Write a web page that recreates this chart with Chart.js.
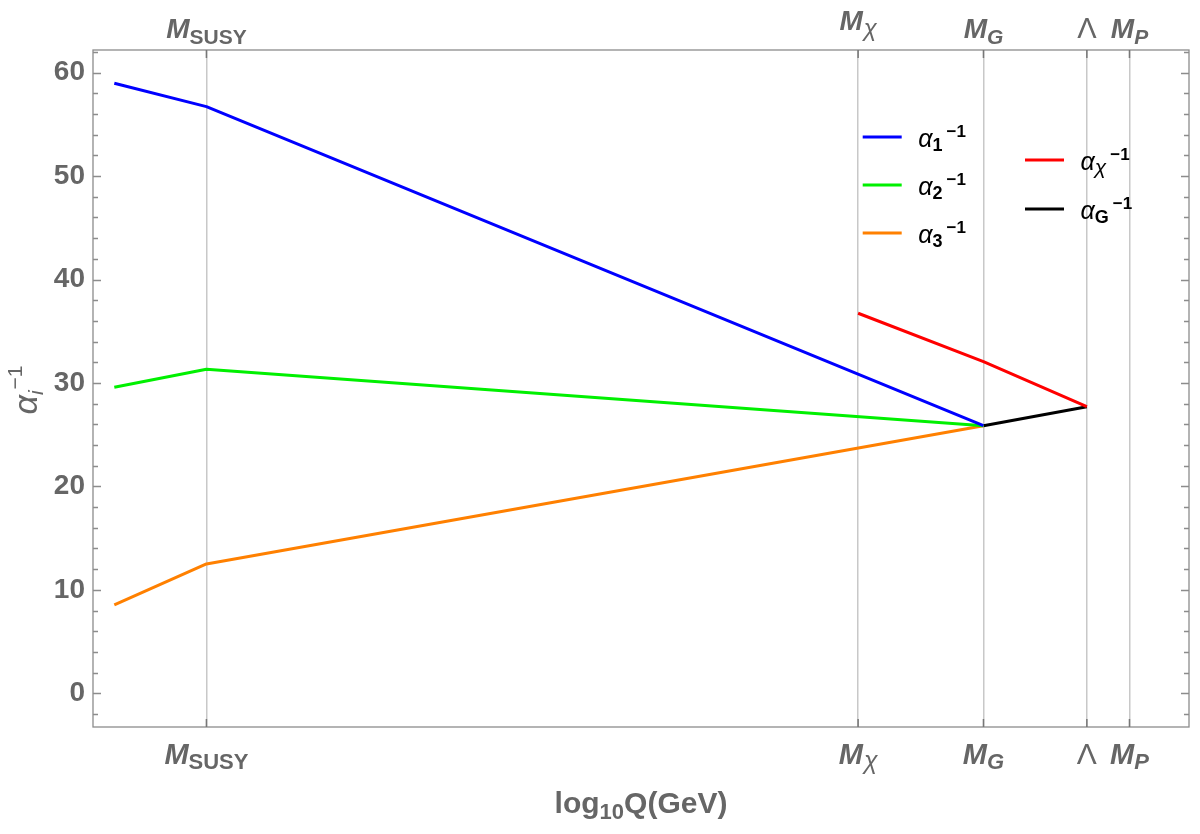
<!DOCTYPE html>
<html>
<head>
<meta charset="utf-8">
<script src="https://cdn.jsdelivr.net/npm/chart.js@4/dist/chart.umd.min.js"></script>
<style>
html,body{margin:0;padding:0;background:#fff;}
#wrap{width:1200px;height:834px;position:relative;}
</style>
</head>
<body>
<div id="wrap"><canvas id="c" width="1200" height="834"></canvas></div>
<script>
// ---- data (log10 Q in GeV, inverse couplings) ----
const scaleNames = ['M_SUSY', 'M_chi', 'M_G', 'Lambda', 'M_P'];
const scalePositions = [3.6, 14, 16, 17.65, 18.33];
const xAxisMin = 1.79;
const xAxisMax = 19.28;
const yAxisMin = -3.26;
const yAxisMax = 62.19;
const yTicks = [0, 10, 20, 30, 40, 50, 60];

const alphaSMX = [2.13, 3.6, 16];
const alpha1Y = [58.98, 56.72, 25.87];
const alpha2Y = [29.59, 31.33, 25.87];
const alpha3Y = [8.54, 12.5, 25.87];
const alphaChiX = [14, 16, 17.65];
const alphaChiY = [36.74, 32.06, 27.71];
const alphaGX = [16, 17.65];
const alphaGY = [25.87, 27.71];

const FONT = '"Liberation Sans", Arial, sans-serif';
const GRAY = '#666666';

function pts(xs, ys) { return xs.map((x, i) => ({ x: x, y: ys[i] })); }
function ds(label, xs, ys, color) {
  return { label: label, data: pts(xs, ys), borderColor: color, backgroundColor: color,
           borderWidth: 3, pointRadius: 0, tension: 0, fill: false, borderJoinStyle: 'round' };
}

// rich text: parts = [{t, f, dy, gap}]
function drawRich(ctx, parts, x, y, align) {
  let w = 0;
  parts.forEach(p => { ctx.font = p.f; p.w = ctx.measureText(p.t).width; w += p.w + (p.gap || 0); });
  let cx = align === 'center' ? x - w / 2 : (align === 'right' ? x - w : x);
  ctx.textAlign = 'left';
  ctx.textBaseline = 'alphabetic';
  parts.forEach(p => {
    cx += (p.gap || 0);
    ctx.font = p.f;
    ctx.fillText(p.t, cx, y + (p.dy || 0));
    cx += p.w;
  });
}

function labelParts(name, big, small, subDy) {
  const M = 'italic bold ' + big + 'px ' + FONT;
  const S = 'bold ' + small + 'px ' + FONT;
  const Si = 'italic bold ' + small + 'px ' + FONT;
  const chi = 'italic ' + (small + 3) + 'px ' + FONT;
  switch (name) {
    case 'M_SUSY': return [{ t: 'M', f: M }, { t: 'SUSY', f: S, dy: subDy }];
    case 'M_chi': return [{ t: 'M', f: M }, { t: 'χ', f: chi, dy: subDy, gap: 1 }];
    case 'M_G': return [{ t: 'M', f: M }, { t: 'G', f: Si, dy: subDy }];
    case 'M_P': return [{ t: 'M', f: M }, { t: 'P', f: Si, dy: subDy }];
    case 'Lambda': return [{ t: 'Λ', f: (big + 1) + 'px ' + FONT }];
  }
  return [{ t: name, f: M }];
}

const framePlugin = {
  id: 'framePlugin',
  afterDraw(chart) {
    const ctx = chart.ctx;
    const a = chart.chartArea;
    const xs = chart.scales.x, ys = chart.scales.y;
    ctx.save();
    // frame
    ctx.strokeStyle = '#8c8c8c';
    ctx.lineWidth = 1.3;
    ctx.strokeRect(a.left, a.top, a.right - a.left, a.bottom - a.top);
    // y ticks (both sides, inward)
    ctx.beginPath();
    for (let v = -2; v <= 62; v += 2) {
      const py = Math.round(ys.getPixelForValue(v)) + 0.5;
      const len = (v % 10 === 0) ? 8 : 5;
      ctx.moveTo(a.left, py); ctx.lineTo(a.left + len, py);
      ctx.moveTo(a.right, py); ctx.lineTo(a.right - len, py);
    }
    ctx.stroke();
    // x ticks (top & bottom, inward)
    ctx.strokeStyle = '#777';
    ctx.lineWidth = 1.5;
    ctx.beginPath();
    scalePositions.forEach(v => {
      const px = xs.getPixelForValue(v);
      ctx.moveTo(px, a.bottom); ctx.lineTo(px, a.bottom - 8);
      ctx.moveTo(px, a.top); ctx.lineTo(px, a.top + 8);
    });
    ctx.stroke();
    // x tick labels
    ctx.fillStyle = GRAY;
    scaleNames.forEach((n, i) => {
      const px = xs.getPixelForValue(scalePositions[i]);
      const topBase = n === 'M_chi' ? 30 : 38;
      drawRich(ctx, labelParts(n, 28, 21, 6), px, topBase, 'center');
      drawRich(ctx, labelParts(n, 29, 22, 5), px, 764, 'center');
    });
    // x title
    drawRich(ctx, [
      { t: 'log', f: 'bold 30px ' + FONT },
      { t: '10', f: 'bold 22px ' + FONT, dy: 6 },
      { t: 'Q(GeV)', f: 'bold 30px ' + FONT }
    ], (a.left + a.right) / 2, 813, 'center');
    // y title (rotated)
    ctx.save();
    ctx.translate(37, 390);
    ctx.rotate(-Math.PI / 2);
    drawRich(ctx, [
      { t: 'α', f: 'italic 34px ' + FONT },
      { t: 'i', f: 'italic 21px ' + FONT, dy: 6 },
      { t: '−1', f: '21px ' + FONT, dy: -15, gap: 1 }
    ], 0, 0, 'center');
    ctx.restore();
    // legends
    const leg = [
      { ds: 0, x: 862.7, y: 137, sub: '1', subF: 'bold 18px ' + FONT },
      { ds: 1, x: 862.7, y: 185, sub: '2', subF: 'bold 18px ' + FONT },
      { ds: 2, x: 862.7, y: 233, sub: '3', subF: 'bold 18px ' + FONT },
      { ds: 3, x: 1025, y: 160, sub: 'χ', subF: 'italic 21px ' + FONT },
      { ds: 4, x: 1025, y: 209, sub: 'G', subF: 'bold 18px ' + FONT }
    ];
    leg.forEach(L => {
      const d = chart.data.datasets[L.ds];
      ctx.strokeStyle = d.borderColor;
      ctx.lineWidth = 3;
      ctx.beginPath();
      ctx.moveTo(L.x, L.y); ctx.lineTo(L.x + 39, L.y);
      ctx.stroke();
      ctx.fillStyle = '#000';
      drawRich(ctx, [
        { t: 'α', f: 'italic 25px ' + FONT },
        { t: L.sub, f: L.subF, dy: 4 },
        { t: '−1', f: 'bold 17px ' + FONT, dy: -10, gap: 4 }
      ], L.x + 55.5, L.y + 10, 'left');
    });
    ctx.restore();
  }
};

new Chart(document.getElementById('c'), {
  type: 'line',
  data: {
    datasets: [
      ds('α1^-1', alphaSMX, alpha1Y, '#0000ff'),
      ds('α2^-1', alphaSMX, alpha2Y, '#00f000'),
      ds('α3^-1', alphaSMX, alpha3Y, '#ff8000'),
      ds('αχ^-1', alphaChiX, alphaChiY, '#ff0000'),
      ds('αG^-1', alphaGX, alphaGY, '#000000')
    ]
  },
  options: {
    responsive: false,
    animation: false,
    devicePixelRatio: 1,
    layout: { padding: { top: 50, right: 11, left: 0, bottom: 0 } },
    plugins: { legend: { display: false }, tooltip: { enabled: false } },
    scales: {
      x: {
        type: 'linear', position: 'bottom', min: xAxisMin, max: xAxisMax,
        afterBuildTicks: s => { s.ticks = scalePositions.map(v => ({ value: v })); },
        afterFit: s => { s.height = 107; },
        ticks: { display: false },
        grid: { color: '#c8c8c8', lineWidth: 1.5, drawTicks: false },
        border: { display: false }
      },
      y: {
        type: 'linear', position: 'left', min: yAxisMin, max: yAxisMax,
        afterBuildTicks: s => { s.ticks = yTicks.map(v => ({ value: v })); },
        afterFit: s => { s.width = 93; },
        ticks: { color: GRAY, font: { family: FONT, size: 28, weight: 'bold' }, padding: 8 },
        grid: { display: false, drawTicks: false },
        border: { display: false }
      }
    }
  },
  plugins: [framePlugin]
});
</script>
</body>
</html>
